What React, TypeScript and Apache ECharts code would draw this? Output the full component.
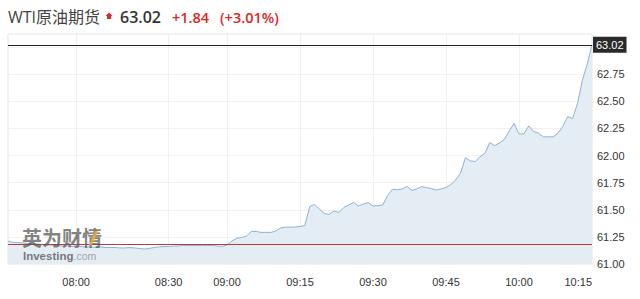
import React, { useEffect, useRef } from "react";
import * as echarts from "echarts";

const times: string[] = [
  "07:30","07:32","07:34","07:36","07:38","07:40","07:42","07:44","07:46","07:48","07:50","07:52","07:55","07:57",
  "08:00","08:01","08:03","08:04","08:06","08:07","08:09","08:10","08:12","08:13","08:15","08:17","08:18","08:20","08:21","08:23","08:25","08:26","08:28",
  "08:30","08:33","08:35","08:38","08:41","08:43","08:46","08:48","08:51","08:53","08:55","08:58",
  "09:00","09:01","09:02","09:03","09:04","09:05","09:06","09:07","09:08","09:09","09:10","09:11","09:12","09:13","09:14",
  "09:15","09:16","09:17","09:18","09:19","09:20","09:21","09:22","09:23","09:24","09:25","09:26","09:27","09:28","09:29",
  "09:30","09:31","09:32","09:33","09:34","09:35","09:36","09:37","09:38","09:39","09:40","09:41","09:42","09:43","09:44",
  "09:45","09:46","09:47","09:48","09:49","09:50","09:51","09:52","09:53","09:54","09:55","09:56","09:57","09:58","09:59",
  "10:00","10:01","10:02","10:03","10:04","10:05","10:06","10:07","10:08","10:09","10:10","10:11","10:12","10:13","10:14",
  "10:15",
];

const prices: number[] = [
  61.21, 61.2, 61.198, 61.194, 61.189, 61.185, 61.185, 61.18, 61.175, 61.175, 61.171, 61.166, 61.166, 61.161,
  61.166, 61.161, 61.157, 61.157, 61.152, 61.157, 61.152, 61.152, 61.152, 61.148, 61.148, 61.152, 61.148, 61.143, 61.138, 61.143, 61.152, 61.157, 61.161,
  61.161, 61.166, 61.166, 61.171, 61.171, 61.171, 61.171, 61.171, 61.171, 61.171, 61.166, 61.163,
  61.175, 61.212, 61.237, 61.244, 61.258, 61.3, 61.3, 61.291, 61.292, 61.291, 61.304, 61.332, 61.339, 61.34, 61.341,
  61.346, 61.355, 61.53, 61.549, 61.507, 61.466, 61.457, 61.489, 61.475, 61.521, 61.544, 61.567, 61.535, 61.553, 61.566,
  61.535, 61.537, 61.544, 61.632, 61.689, 61.684, 61.692, 61.715, 61.678, 61.692, 61.713, 61.704, 61.695, 61.683, 61.692,
  61.704, 61.733, 61.775, 61.839, 61.981, 61.95, 61.944, 61.99, 62.021, 62.119, 62.091, 62.116, 62.149, 62.227, 62.296,
  62.199, 62.199, 62.273, 62.222, 62.206, 62.172, 62.172, 62.172, 62.206, 62.268, 62.359, 62.34, 62.476, 62.69, 62.84,
  63.02,
];

const tickLabels: string[] = ["08:00", "08:30", "09:00", "09:15", "09:30", "09:45", "10:00", "10:15"];
const lastPrice = 63.02;
const change = 1.84;
const changePct = 3.01;
const prevClose = 61.18;
const yMin = 61;
const yMax = 63.12;
const yStep = 0.25;

export default function App() {
  const ref = useRef<HTMLDivElement>(null);
  useEffect(() => {
    if (!ref.current) return;
    const chart = echarts.init(ref.current, null, { renderer: "svg" });
    const showTick = (_i: number, v: string) => tickLabels.includes(v);
    chart.setOption({
      animation: false,
      grid: {
        left: 8,
        right: 48,
        top: 34,
        bottom: 35,
        show: true,
        borderColor: "#e3e3e3",
        borderWidth: 1,
      },
      xAxis: {
        type: "category",
        data: times,
        boundaryGap: false,
        axisLine: { show: false },
        axisTick: { show: false },
        axisLabel: {
          interval: showTick,
          color: "#333",
          fontSize: 11,
          fontFamily: "Liberation Sans, Arial, sans-serif",
          margin: 12,
          alignMaxLabel: "right",
        },
        splitLine: { show: true, interval: showTick, lineStyle: { color: "#f0f0f0", width: 1 } },
      },
      yAxis: {
        type: "value",
        position: "right",
        min: yMin,
        max: yMax,
        interval: yStep,
        axisLine: { show: false },
        axisTick: { show: false },
        axisLabel: {
          color: "#333",
          fontSize: 11,
          fontFamily: "Liberation Sans, Arial, sans-serif",
          margin: 5,
          showMaxLabel: false,
          formatter: (v: number) => (v > 62.9 ? "" : v.toFixed(2)),
        },
        splitLine: { show: true, lineStyle: { color: "#f2f2f2", width: 1 } },
      },
      series: [
        {
          type: "line",
          data: prices,
          showSymbol: false,
          lineStyle: { color: "#8db1d7", width: 1 },
          areaStyle: { color: "#e5edf4", opacity: 1 },
          markLine: {
            silent: true,
            symbol: "none",
            data: [
              {
                yAxis: lastPrice,
                lineStyle: { color: "#222", width: 1.2, type: "solid" },
                label: {
                  show: true,
                  position: "end",
                  formatter: lastPrice.toFixed(2),
                  backgroundColor: "#2a2a2a",
                  color: "#fff",
                  fontSize: 11,
                  fontFamily: "Liberation Sans, Arial, sans-serif",
                  padding: [3, 3, 2, 3],
                  distance: 1,
                },
              },
              {
                yAxis: prevClose,
                lineStyle: { color: "#b83a3a", width: 1, type: "solid" },
                label: { show: false },
              },
            ],
          },
        },
      ],
      graphic: [
        {
          type: "text",
          left: 8,
          top: 9,
          style: {
            text: "WTI原油期货",
            fill: "#444",
            fontSize: 16,
            fontFamily: "Open Sans, Noto Sans CJK SC, sans-serif",
          },
        },
        {
          type: "polygon",
          shape: {
            points: [
              [109, 12.5], [112.5, 16], [111, 16], [111, 19], [107, 19], [107, 16], [105.5, 16],
            ],
          },
          style: { fill: "#e02626" },
        },
        {
          type: "text",
          left: 120,
          top: 9,
          style: {
            text: lastPrice.toFixed(2),
            fill: "#333",
            fontSize: 16,
            fontWeight: 600,
            fontFamily: "Open Sans, sans-serif",
          },
        },
        {
          type: "text",
          left: 172,
          top: 9.5,
          style: {
            text: "+" + change.toFixed(2),
            fill: "#e02626",
            fontSize: 14.5,
            fontWeight: 600,
            fontFamily: "Open Sans, sans-serif",
          },
        },
        {
          type: "text",
          left: 220,
          top: 9.5,
          style: {
            text: "(+" + changePct.toFixed(2) + "%)",
            fill: "#e02626",
            fontSize: 14.5,
            fontWeight: 600,
            fontFamily: "Open Sans, sans-serif",
          },
        },
        {
          type: "text",
          left: 22,
          top: 226,
          z: 100,
          style: {
            text: "英为财情",
            fill: "rgba(90,90,90,0.75)",
            fontSize: 20,
            lineHeight: 22,
            fontWeight: "bold",
            fontFamily: "Noto Sans CJK SC, sans-serif",
          },
        },
        {
          type: "polygon",
          z: 101,
          shape: { points: [[89, 245], [95, 231], [98, 231], [92, 245]] },
          style: { fill: "rgba(245,170,40,0.85)" },
        },
        {
          type: "text",
          left: 23,
          top: 250,
          z: 100,
          style: {
            text: "{a|Investing}{b|.com}",
            rich: {
              a: { fill: "rgba(95,95,95,0.85)", fontSize: 11.5, fontWeight: "bold", fontFamily: "Liberation Sans, Arial, sans-serif", lineHeight: 12 },
              b: { fill: "rgba(140,140,140,0.8)", fontSize: 10.5, fontFamily: "Liberation Sans, Arial, sans-serif", lineHeight: 12 },
            },
          },
        },
      ],
    });
    return () => chart.dispose();
  }, []);
  return (
    <div
      ref={ref}
      style={{ position: "fixed", left: 0, top: 0, width: 640, height: 299, background: "#fff" }}
    />
  );
}
